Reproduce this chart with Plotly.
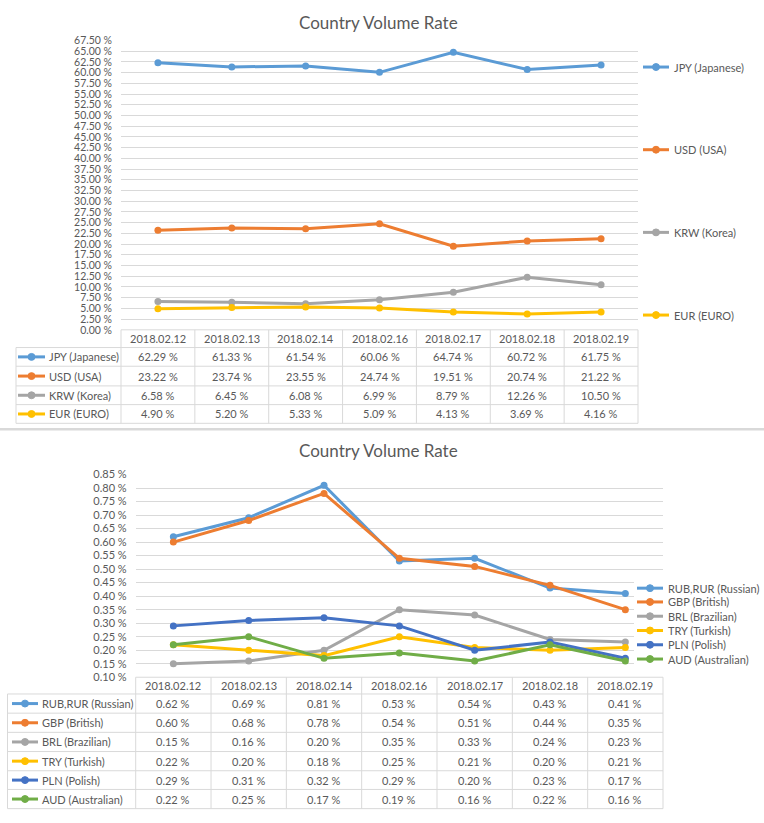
import plotly.graph_objects as go

# ---------------- data ----------------
dates = ["2018.02.12", "2018.02.13", "2018.02.14", "2018.02.16",
         "2018.02.17", "2018.02.18", "2018.02.19"]

top_names = ["JPY (Japanese)", "USD (USA)", "KRW (Korea)", "EUR (EURO)"]
jpy = [62.29, 61.33, 61.54, 60.06, 64.74, 60.72, 61.75]
usd = [23.22, 23.74, 23.55, 24.74, 19.51, 20.74, 21.22]
krw = [6.58, 6.45, 6.08, 6.99, 8.79, 12.26, 10.50]
eur = [4.90, 5.20, 5.33, 5.09, 4.13, 3.69, 4.16]
top_colors = ["#5B9BD5", "#ED7D31", "#A5A5A5", "#FFC000"]

bot_names = ["RUB,RUR (Russian)", "GBP (British)", "BRL (Brazilian)",
             "TRY (Turkish)", "PLN (Polish)", "AUD (Australian)"]
rub = [0.62, 0.69, 0.81, 0.53, 0.54, 0.43, 0.41]
gbp = [0.60, 0.68, 0.78, 0.54, 0.51, 0.44, 0.35]
brl = [0.15, 0.16, 0.20, 0.35, 0.33, 0.24, 0.23]
try_ = [0.22, 0.20, 0.18, 0.25, 0.21, 0.20, 0.21]
pln = [0.29, 0.31, 0.32, 0.29, 0.20, 0.23, 0.17]
aud = [0.22, 0.25, 0.17, 0.19, 0.16, 0.22, 0.16]
bot_colors = ["#5B9BD5", "#ED7D31", "#A5A5A5", "#FFC000", "#4472C4", "#70AD47"]

title_text = "Country Volume Rate"

top_series = [jpy, usd, krw, eur]
bot_series = [rub, gbp, brl, try_, pln, aud]

# ---------------- layout helpers ----------------
W, H = 764, 823
FONT = "Lato"
TXT = "#595959"
GRID = "#D9D9D9"


def px(x):
    return x / W


def py(y):
    return 1 - y / H


shapes = []
annotations = []


def hline(x0, x1, y, color=GRID, width=1):
    shapes.append(dict(type="line", xref="paper", yref="paper",
                       x0=px(x0), x1=px(x1), y0=py(y), y1=py(y),
                       line=dict(color=color, width=width)))


def vline(x, y0, y1, color=GRID, width=1):
    shapes.append(dict(type="line", xref="paper", yref="paper",
                       x0=px(x), x1=px(x), y0=py(y0), y1=py(y1),
                       line=dict(color=color, width=width)))


def text(x, y, s, size=11, xanchor="center", color=TXT):
    annotations.append(dict(xref="paper", yref="paper", x=px(x), y=py(y),
                            text=s, showarrow=False, xanchor=xanchor,
                            yanchor="middle",
                            font=dict(family=FONT, size=size, color=color)))


def legend_symbol(x0, x1, y, color):
    shapes.append(dict(type="line", xref="paper", yref="paper",
                       x0=px(x0), x1=px(x1), y0=py(y), y1=py(y),
                       line=dict(color=color, width=3)))
    cx = (x0 + x1) / 2
    r = 3.5
    shapes.append(dict(type="circle", xref="paper", yref="paper",
                       x0=px(cx - r), x1=px(cx + r), y0=py(y + r), y1=py(y - r),
                       fillcolor=color, line=dict(color=color, width=1)))


fig = go.Figure()

# ---------------- chart 1 ----------------
c1_left, c1_right, c1_top, c1_bot = 121, 638, 34, 328
for name, vals, col in zip(top_names, top_series, top_colors):
    fig.add_trace(go.Scatter(
        x=list(range(len(dates))), y=vals, name=name, mode="lines+markers",
        line=dict(color=col, width=3), marker=dict(size=7, color=col),
        xaxis="x", yaxis="y", showlegend=False))

# ---------------- chart 2 ----------------
c2_left, c2_right, c2_top, c2_bot = 135.7, 663, 475, 681
for name, vals, col in zip(bot_names, bot_series, bot_colors):
    fig.add_trace(go.Scatter(
        x=list(range(len(dates))), y=vals, name=name, mode="lines+markers",
        line=dict(color=col, width=3), marker=dict(size=7, color=col),
        xaxis="x2", yaxis="y2", showlegend=False))

# titles
text(378, 16, title_text, size=17)
text(378, 451, title_text, size=17)

# separator
hline(0, 764, 429, color="#D9D9D9", width=2.5)


# ---------------- tables ----------------
def draw_table(left, col0, right, rows_y, names, series, colors, sym_x0, sym_x1, txt_x):
    ncol = len(dates)
    cw = (right - col0) / ncol
    hline(col0, right, rows_y[0])
    for y in rows_y[1:]:
        hline(left, right, y)
    for i in range(ncol + 1):
        vline(col0 + i * cw, rows_y[0], rows_y[-1])
    vline(left, rows_y[1], rows_y[-1])
    hy = (rows_y[0] + rows_y[1]) / 2
    for i, d in enumerate(dates):
        text(col0 + (i + 0.5) * cw, hy, d)
    for r, (name, vals, col) in enumerate(zip(names, series, colors)):
        ry = (rows_y[r + 1] + rows_y[r + 2]) / 2
        legend_symbol(sym_x0, sym_x1, ry, col)
        text(txt_x, ry, name, xanchor="left")
        for i, v in enumerate(vals):
            text(col0 + (i + 0.5) * cw, ry, f"{v:.2f} %")


draw_table(16, c1_left, c1_right, [328, 346, 365, 385, 404, 423],
           top_names, top_series, top_colors, 18, 45, 47)
draw_table(7.5, c2_left, c2_right, [681, 698, 717.5, 737, 756.5, 776, 795, 814.5],
           bot_names, bot_series, bot_colors, 12, 38, 40)

# ---------------- custom legends ----------------
for name, col, y in zip(top_names, top_colors, [61, 145, 229, 313]):
    legend_symbol(643, 669, y, col)
    text(672, y, name, xanchor="left")

shapes.append(dict(type="rect", xref="paper", yref="paper",
                   x0=px(634), x1=px(764), y0=py(577), y1=py(675),
                   fillcolor="white", line=dict(width=0), layer="above"))
for name, col, y in zip(bot_names, bot_colors, [590.5, 604.5, 619, 633.5, 648, 662.5]):
    legend_symbol(637, 663, y, col)
    text(666, y, name, xanchor="left")

fig.update_layout(
    width=W, height=H, autosize=False,
    margin=dict(l=0, r=0, t=0, b=0),
    paper_bgcolor="white", plot_bgcolor="white",
    showlegend=False,
    xaxis=dict(domain=[px(c1_left), px(c1_right)], range=[-0.5, 6.5],
               showgrid=False, showticklabels=False, zeroline=False,
               anchor="y", fixedrange=True),
    yaxis=dict(domain=[py(c1_bot), py(c1_top)], range=[0, 67.5], dtick=2.5,
               tick0=0, tickformat=".2f", ticksuffix=" %", showgrid=True,
               gridcolor=GRID, gridwidth=1, ticklabelstandoff=8,
               showline=False, zeroline=False, ticks="",
               tickfont=dict(family=FONT, size=10.5, color=TXT),
               anchor="x"),
    xaxis2=dict(domain=[px(c2_left), px(c2_right)], range=[-0.5, 6.5],
                showgrid=False, showticklabels=False, zeroline=False,
                anchor="y2", fixedrange=True),
    yaxis2=dict(domain=[py(c2_bot), py(c2_top)], range=[0.10, 0.85], dtick=0.05,
                tick0=0.10, tickformat=".2f", ticksuffix=" %", showgrid=True,
                gridcolor=GRID, gridwidth=1, ticklabelstandoff=8,
                showline=False, zeroline=False, ticks="",
                tickfont=dict(family=FONT, size=11, color=TXT),
                anchor="x2"),
    shapes=shapes,
    annotations=annotations,
)

fig.write_html("out.html",
               config={"displayModeBar": False},
               post_script="document.body.style.margin='0';"
                           "document.body.style.overflow='hidden';")
